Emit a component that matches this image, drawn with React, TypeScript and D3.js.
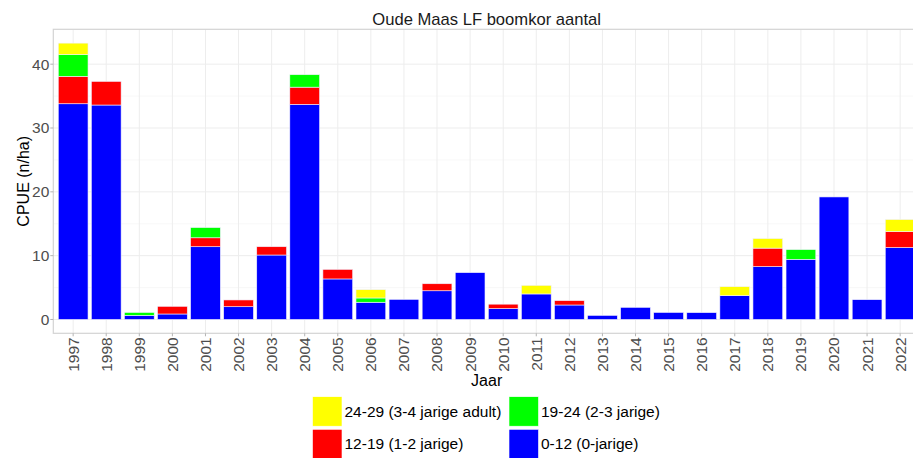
import React from "react";
import * as d3 from "d3";

const years = ["1997","1998","1999","2000","2001","2002","2003","2004","2005","2006","2007","2008","2009","2010","2011","2012","2013","2014","2015","2016","2017","2018","2019","2020","2021","2022"];
const s0_12 = [33.8,33.6,0.64,0.86,11.4,2.0,10.1,33.7,6.35,2.7,3.15,4.5,7.34,1.7,4.0,2.27,0.64,1.9,1.1,1.07,3.73,8.28,9.43,19.2,3.1,11.26];
const s12_19 = [4.3,3.7,0,1.2,1.4,1.06,1.3,2.7,1.5,0,0,1.1,0,0.7,0,0.68,0,0,0,0,0,2.9,0,0,0,2.5];
const s19_24 = [3.4,0,0.46,0,1.6,0,0,1.95,0,0.67,0,0,0,0,0,0,0,0,0,0,0,0,1.52,0,0,0];
const s24_29 = [1.8,0,0,0,0,0,0,0,0,1.3,0,0,0,0,1.35,0,0,0,0,0,1.41,1.5,0,0,0,1.9];
const seriesNames = ["0-12 (0-jarige)","12-19 (1-2 jarige)","19-24 (2-3 jarige)","24-29 (3-4 jarige adult)"];
const seriesColors = ["#0000FF","#FF0000","#00FF00","#FFFF00"];
const yTicks = [0,10,20,30,40];
const yMinor = [5,15,25,35];

export default function App() {
  const W = 913, H = 458;
  const left = 53.3, right = 920, top = 29.3, bottom = 333.3;
  const rows = years.map((y, i) => ({ year: y, a: s0_12[i], b: s12_19[i], c: s19_24[i], d: s24_29[i] }));
  const keys = ["a","b","c","d"];
  const stack = d3.stack<any>().keys(keys)(rows);
  const maxV = d3.max(rows, r => r.a + r.b + r.c + r.d) as number;
  const y = d3.scaleLinear().domain([-0.05 * maxV, maxV * 1.05]).range([bottom, top]);
  const step = (right - left) / (years.length - 1 + 1.2);
  const x = (i: number) => left + step * (0.6 + i);
  const bw = step * 0.9;
  const font = "Liberation Sans, Arial, sans-serif";
  const legendItems = [
    { name: seriesNames[3], color: seriesColors[3], x: 312.5, y: 396.7 },
    { name: seriesNames[2], color: seriesColors[2], x: 509, y: 396.7 },
    { name: seriesNames[1], color: seriesColors[1], x: 312.5, y: 429.3 },
    { name: seriesNames[0], color: seriesColors[0], x: 509, y: 429.3 },
  ];
  return (
    <svg width={W} height={H} style={{ position: "absolute", left: 0, top: 0, background: "#fff" }} fontFamily={font}>
      <rect x={0} y={0} width={W} height={H} fill="#fff" />
      <text x={(left + right) / 2} y={25} textAnchor="middle" fontSize={16.6} fill="#1a1a1a">Oude Maas LF boomkor aantal</text>
      {yMinor.map(t => (
        <line key={"m" + t} x1={left} x2={right} y1={y(t)} y2={y(t)} stroke="#F4F4F4" strokeWidth={0.6} />
      ))}
      {yTicks.map(t => (
        <line key={"g" + t} x1={left} x2={right} y1={y(t)} y2={y(t)} stroke="#EDEDED" strokeWidth={1} />
      ))}
      {years.map((yr, i) => (
        <line key={"v" + yr} x1={x(i)} x2={x(i)} y1={top} y2={bottom} stroke="#EDEDED" strokeWidth={1} />
      ))}
      {stack.map((layer, li) => (
        <g key={li} fill={seriesColors[li]}>
          {layer.map((d, i) => d[1] - d[0] > 0 ? (
            <rect key={i} x={x(i) - bw / 2} width={bw} y={y(d[1])} height={y(d[0]) - y(d[1])} stroke="#F0F0FF" strokeWidth={0.6} />
          ) : null)}
        </g>
      ))}
      <rect x={left} y={top} width={right - left} height={bottom - top} fill="none" stroke="#D3D3D3" strokeWidth={1.2} />
      {yTicks.map(t => (
        <g key={"yt" + t}>
          <line x1={left - 3} x2={left} y1={y(t)} y2={y(t)} stroke="#B3B3B3" />
          <text x={left - 4} y={y(t)} dy="0.35em" textAnchor="end" fontSize={15.5} fill="#4D4D4D">{t}</text>
        </g>
      ))}
      {years.map((yr, i) => (
        <g key={"xt" + yr}>
          <line x1={x(i)} x2={x(i)} y1={bottom} y2={bottom + 3} stroke="#B3B3B3" />
          <text transform={`translate(${x(i)},${bottom + 4}) rotate(-90)`} dy="0.35em" textAnchor="end" fontSize={15.5} fill="#4D4D4D">{yr}</text>
        </g>
      ))}
      <text x={(left + right) / 2} y={386} textAnchor="middle" fontSize={16} fill="#000">Jaar</text>
      <text transform={`translate(29,${(top + bottom) / 2}) rotate(-90)`} textAnchor="middle" fontSize={16} fill="#000">CPUE (n/ha)</text>
      {legendItems.map(it => (
        <g key={it.name}>
          <rect x={it.x} y={it.y} width={29.5} height={29.5} fill={it.color} stroke="#fff" strokeWidth={0.6} />
          <text x={it.x + 32} y={it.y + 20} fontSize={15.5} fill="#000">{it.name}</text>
        </g>
      ))}
    </svg>
  );
}
